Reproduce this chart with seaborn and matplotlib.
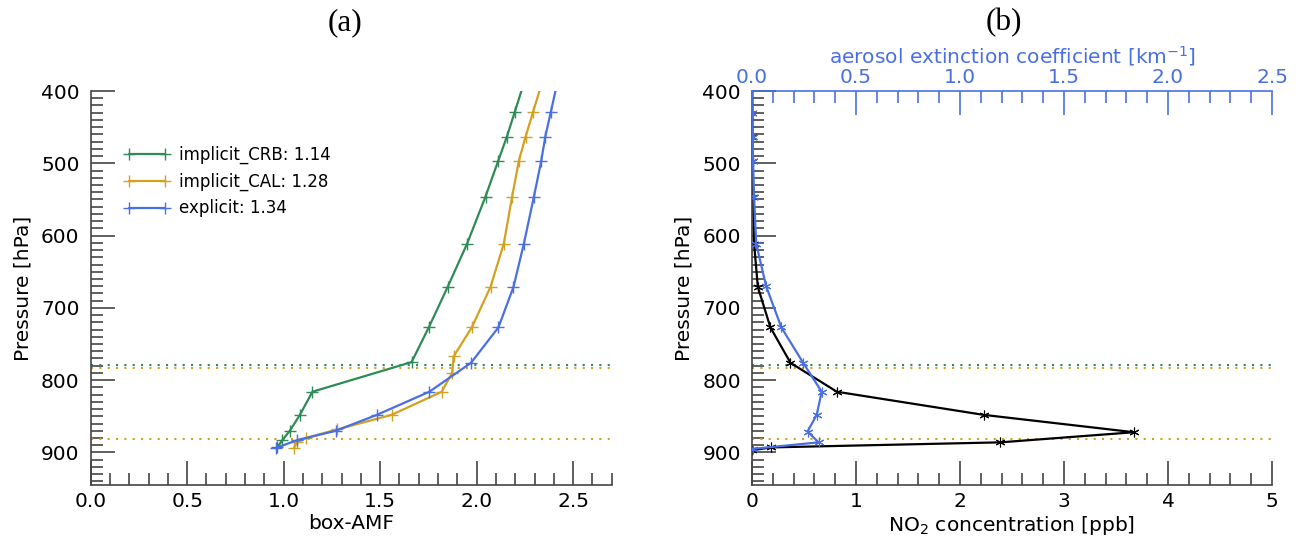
import matplotlib
matplotlib.use("Agg")
import matplotlib.pyplot as plt
from matplotlib.ticker import MultipleLocator
import numpy as np
import pandas as pd
import seaborn as sns

# panel (a): box-AMF profiles
p_crb = [390, 429.5, 463, 496.5, 546, 611, 671, 727, 775, 816, 848, 870, 883, 893]
amf_crb = [2.244, 2.197, 2.157, 2.112, 2.046, 1.951, 1.850, 1.752, 1.663, 1.149, 1.084, 1.032, 0.993, 0.967]

p_cal = [390, 429.5, 463, 496.5, 546, 611, 671, 727, 767, 790, 816, 848, 868, 880, 886, 894]
amf_cal = [2.337, 2.292, 2.254, 2.219, 2.184, 2.141, 2.072, 1.975, 1.881, 1.873, 1.819, 1.559, 1.279, 1.114, 1.067, 1.053]

p_exp = [390, 429.5, 463, 496.5, 546, 611, 671, 727, 776, 816, 848, 870, 883, 894]
amf_exp = [2.417, 2.384, 2.356, 2.335, 2.297, 2.245, 2.191, 2.113, 1.971, 1.755, 1.483, 1.270, 1.070, 0.958]

labels = ["implicit_CRB: 1.14", "implicit_CAL: 1.28", "explicit: 1.34"]

# cloud levels (hPa)
crb_top = 779
cal_top = 783
cal_bottom = 881

# panel (b): NO2 and aerosol extinction profiles
p_no2 = [390, 430, 463, 497, 546, 611, 671, 727, 776, 816, 848, 872, 886, 893, 897]
no2 = [0.002, 0.003, 0.004, 0.006, 0.01, 0.02, 0.056, 0.177, 0.37, 0.816, 2.228, 3.673, 2.389, 0.18, 0.0]

p_aer = [390, 430, 463, 497, 546, 611, 670, 727, 776, 816, 848, 871, 886, 895]
aer = [0.002, 0.002, 0.003, 0.005, 0.01, 0.02, 0.068, 0.141, 0.246, 0.335, 0.311, 0.267, 0.32, 0.003]

green = "#2e8b57"
orange = "#d4a020"
blue = "#4a6fe3"
axcol = "#444444"
fs = 14.5

sns.set_style("ticks")
plt.rcParams["font.family"] = "DejaVu Sans"
plt.rcParams["text.color"] = "black"
plt.rcParams["axes.labelcolor"] = "black"

fig = plt.figure(figsize=(12.99, 5.37), dpi=100)
axa = fig.add_axes([90.7/1299, 1-485/537, 521/1299, 394/537])
axb = fig.add_axes([752/1299, 1-485/537, 520/1299, 394/537])


def style_axis(ax):
    for s in ["top", "right"]:
        ax.spines[s].set_visible(False)
    for s in ["left", "bottom"]:
        ax.spines[s].set_color(axcol)
        ax.spines[s].set_linewidth(1.2)
    ax.tick_params(which="major", direction="in", length=17, width=1.2, color=axcol,
                   labelsize=fs, labelcolor="black")
    ax.tick_params(which="minor", direction="in", length=8.5, width=1.2, color=axcol)
    ax.tick_params(axis="x", which="major", pad=5)
    ax.tick_params(axis="y", which="major", pad=8)
    ax.set_ylim(945, 400)
    ax.yaxis.set_major_locator(MultipleLocator(100))
    ax.yaxis.set_minor_locator(MultipleLocator(10))
    ax.set_ylabel("Pressure [hPa]", fontsize=fs, labelpad=6)
    ax.axhline(crb_top, color=green, ls=(0, (1, 3)), lw=1.5)
    ax.axhline(cal_top, color=orange, ls=(0, (1, 3)), lw=1.5)
    ax.axhline(cal_bottom, color=orange, ls=(0, (1, 3)), lw=1.5)


# (a)
style_axis(axa)
for pp, vv, c, lab in [(p_crb, amf_crb, green, labels[0]),
                       (p_cal, amf_cal, orange, labels[1]),
                       (p_exp, amf_exp, blue, labels[2])]:
    sns.lineplot(x=vv, y=pp, orient="y", sort=False, estimator=None, ax=axa,
                 color=c, lw=1.6, marker="+", markersize=8, mew=1.0,
                 markeredgecolor=c, label=lab)
axa.set_xlim(0, 2.7)
axa.xaxis.set_major_locator(MultipleLocator(0.5))
axa.xaxis.set_minor_locator(MultipleLocator(0.1))
axa.set_xlabel("box-AMF", fontsize=fs, labelpad=2)
axa.legend(loc="upper left", bbox_to_anchor=(0.064, 0.86), frameon=False, fontsize=12,
           numpoints=2, handlelength=2.76, handletextpad=0.54, labelspacing=0.5,
           borderpad=0, borderaxespad=0)

# (b)
style_axis(axb)
axt = axb.twiny()
sns.lineplot(x=aer, y=p_aer, orient="y", sort=False, estimator=None, ax=axt,
             color=blue, lw=1.6, marker=(6, 2, 0), markersize=7, mew=0.8,
             markeredgecolor=blue)
sns.lineplot(x=no2, y=p_no2, orient="y", sort=False, estimator=None, ax=axb,
             color="black", lw=1.6, marker=(6, 2, 0), markersize=7, mew=0.8,
             markeredgecolor="black")
axb.set_ylim(945, 400)
axb.set_xlim(0, 5)
axb.xaxis.set_major_locator(MultipleLocator(1))
axb.xaxis.set_minor_locator(MultipleLocator(0.2))
axb.set_xlabel("NO$_2$ concentration [ppb]", fontsize=fs, labelpad=2)

axt.set_xlim(0, 2.5)
axt.xaxis.set_major_locator(MultipleLocator(0.5))
axt.xaxis.set_minor_locator(MultipleLocator(0.1))
for s in ["bottom", "left", "right"]:
    axt.spines[s].set_visible(False)
axt.spines["top"].set_color(blue)
axt.spines["top"].set_linewidth(1.2)
axt.tick_params(axis="x", which="major", direction="in", length=17, width=1.2,
                color=blue, labelcolor=blue, labelsize=fs, pad=3)
axt.tick_params(axis="x", which="minor", direction="in", length=8.5, width=1.2, color=blue)
axt.set_xlabel("aerosol extinction coefficient [km$^{-1}$]", fontsize=fs, color=blue, labelpad=3)
axt.set_ylabel("")

fig.text(345/1299, 1-23/537, "(a)", ha="center", va="center", fontsize=22.5, family="Liberation Serif")
fig.text(1004/1299, 1-23/537, "(b)", ha="center", va="center", fontsize=22.5, family="Liberation Serif")

fig.savefig("out.png", dpi=100)
